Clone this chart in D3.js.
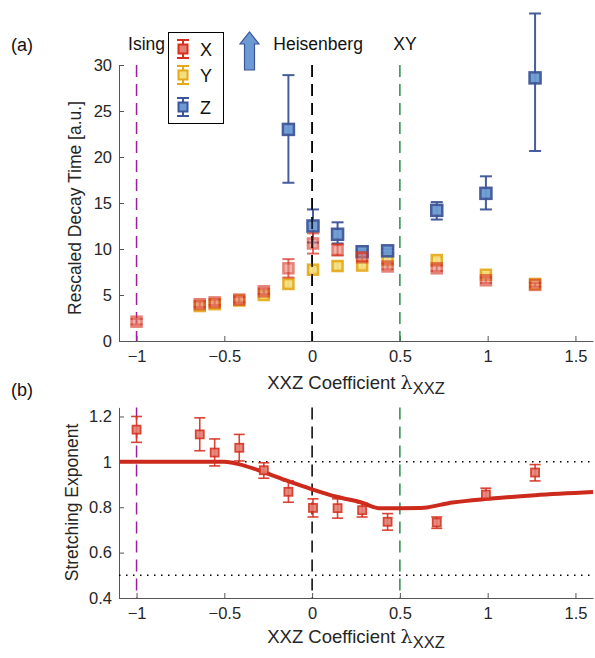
<!DOCTYPE html>
<html><head><meta charset="utf-8">
<script src="https://cdn.jsdelivr.net/npm/d3@7"></script>
<style>body{margin:0;background:#fff}svg{display:block;font-family:"Liberation Sans",Arial,sans-serif}</style>
</head><body><svg id="c" width="595" height="658"></svg>
<script>
// ---- data ----
const lambdaTop = [-1, -0.64, -0.555, -0.415, -0.275, -0.135, 0.005, 0.145, 0.285, 0.43, 0.71, 0.99, 1.27];
const xVals = [2.1, 4.0, 4.2, 4.5, 5.4, 7.9, 10.6, 9.9, 9.1, 8.1, 7.9, 6.6, 6.1];
const xErr  = [0.3, 0.3, 0.3, 0.3, 0.3, 1.0, 1.1, 0.6, 0.4, 0.3, 0.3, 0.3, 0.2];
const yVals = [null, 3.8, 4.0, 4.4, 5.0, 6.2, 7.75, 8.15, 8.2, 8.8, 8.8, 7.2, 6.2];
const yErr  = [0, 0.3, 0.3, 0.3, 0.3, 0.4, 0.3, 0.4, 0.3, 0.3, 0.3, 0.2, 0.2];
const zLambda = [-0.135, 0.005, 0.145, 0.285, 0.43, 0.71, 0.99, 1.27];
const zVals = [23.0, 12.5, 11.6, 9.7, 9.8, 14.2, 16.05, 28.6];
const zLo   = [5.8, 1.8, 1.0, 0.2, 0.2, 1.0, 1.75, 7.95];
const zHi   = [5.9, 1.8, 1.3, 0.2, 0.2, 0.9, 1.85, 7.0];
const lambdaBot = [-1, -0.64, -0.555, -0.415, -0.275, -0.135, 0.005, 0.145, 0.285, 0.43, 0.71, 0.99, 1.27];
const betaVals = [1.142, 1.121, 1.041, 1.062, 0.963, 0.868, 0.797, 0.796, 0.787, 0.736, 0.733, 0.856, 0.953];
const betaLo   = [0.056, 0.072, 0.059, 0.058, 0.035, 0.046, 0.040, 0.044, 0.030, 0.037, 0.026, 0.022, 0.037];
const betaHi   = [0.058, 0.073, 0.060, 0.059, 0.033, 0.048, 0.040, 0.041, 0.032, 0.036, 0.024, 0.028, 0.035];
const fitLambda = [-1.1, -0.5, -0.42, -0.28, -0.14, 0, 0.14, 0.28, 0.39, 0.62, 0.8, 1.0, 1.27, 1.6];
const fitBeta   = [1.0, 1.0, 0.99, 0.956, 0.916, 0.879, 0.846, 0.821, 0.795, 0.797, 0.821, 0.837, 0.853, 0.867];
const xTicks = [-1, -0.5, 0, 0.5, 1, 1.5];
const yTicksTop = [0, 5, 10, 15, 20, 25, 30];
const yTicksBot = [0.4, 0.6, 0.8, 1, 1.2];
const refLines = [{x: -1, name: "Ising", color: "#9b1f9b"}, {x: 0, name: "Heisenberg", color: "#000"}, {x: 0.5, name: "XY", color: "#2e8b4f"}];
const seriesNames = ["X", "Y", "Z"];

// ---- styles ----
const RED = {stroke: "#d7301f", fill: "#e37f73"};
const YEL = {stroke: "#e6a817", fill: "#f2df80"};
const BLU = {stroke: "#3d5599", fill: "#6b9bd2"};
const AX = "#555";

const svg = d3.select("#c");
const x = d3.scaleLinear().domain([-1.1, 1.6]).range([119, 593]);
const yT = d3.scaleLinear().domain([0, 30]).range([341, 65]);
const yB = d3.scaleLinear().domain([0.4, 1.24]).range([598, 407.4]);

function axes(y, ticks, fmt, top, bottom) {
  const gx = svg.append("g").attr("transform", `translate(0,${bottom})`)
    .call(d3.axisBottom(x).tickValues(xTicks).tickSizeInner(-5).tickSizeOuter(0).tickPadding(9).tickFormat(d3.format("")));
  const gy = svg.append("g").attr("transform", `translate(${x.range()[0]},0)`)
    .call(d3.axisLeft(y).tickValues(ticks).tickSizeInner(-5).tickSizeOuter(0).tickPadding(7).tickFormat(fmt));
  [gx, gy].forEach(g => {
    g.select(".domain").attr("stroke", AX).attr("stroke-width", 1);
    g.selectAll(".tick line").attr("stroke", AX);
    g.selectAll("text").attr("font-size", 16.5).attr("fill", "#262626").attr("font-family", "Liberation Sans, Arial, sans-serif");
  });
}

function refVLines(y0, y1) {
  refLines.forEach(r => {
    svg.append("line").attr("x1", x(r.x)).attr("x2", x(r.x)).attr("y1", y0).attr("y2", y1)
      .attr("stroke", r.color).attr("stroke-width", 1.5).attr("stroke-dasharray", "12,7");
  });
}

function errbar(g, cx, ylo, yhi, color, cap, w, op) {
  g.append("line").attr("x1", cx).attr("x2", cx).attr("y1", ylo).attr("y2", yhi).attr("stroke", color).attr("stroke-width", w).attr("opacity", op);
  [ylo, yhi].forEach(yy => g.append("line").attr("x1", cx - cap).attr("x2", cx + cap).attr("y1", yy).attr("y2", yy).attr("stroke", color).attr("stroke-width", w).attr("opacity", op));
}
function marker(g, cx, cy, s, st, sw, op) {
  g.append("rect").attr("x", cx - s / 2).attr("y", cy - s / 2).attr("width", s).attr("height", s)
    .attr("fill", st.fill).attr("stroke", st.stroke).attr("stroke-width", sw).attr("opacity", op);
}

// ===== Panel (a) =====
axes(yT, yTicksTop, d3.format(""), 65, 341);
refVLines(65, 341);

const gp = svg.append("g");
lambdaTop.forEach((l, i) => {
  if (yVals[i] == null) return;
  errbar(gp, x(l), yT(yVals[i] - yErr[i]), yT(yVals[i] + yErr[i]), YEL.stroke, 5, 2, 0.9);
  marker(gp, x(l), yT(yVals[i]), 10, YEL, 2.5, 0.9);
});
zLambda.forEach((l, i) => {
  errbar(gp, x(l), yT(zVals[i] - zLo[i]), yT(zVals[i] + zHi[i]), BLU.stroke, 6, 2, 0.95);
  marker(gp, x(l), yT(zVals[i]), 11, BLU, 2.5, 0.95);
});
lambdaTop.forEach((l, i) => {
  errbar(gp, x(l), yT(xVals[i] - xErr[i]), yT(xVals[i] + xErr[i]), RED.stroke, 6, 2, 0.7);
  marker(gp, x(l), yT(xVals[i]), 10, RED, 2.5, 0.6);
});
svg.append("line").attr("x1", x(0)).attr("x2", x(0)).attr("y1", 65).attr("y2", 341)
  .attr("stroke", "#000").attr("stroke-width", 1.5).attr("stroke-dasharray", "12,7").attr("opacity", 0.9);

refLines.forEach(r => {
  const off = r.name === "Ising" ? 10 : (r.name === "Heisenberg" ? 6 : 5);
  svg.append("text").attr("x", x(r.x) + off).attr("y", 50).attr("text-anchor", "middle")
    .attr("font-size", 17.5).attr("fill", "#111").text(r.name);
});

// arrow
const ax0 = 249.5;
svg.append("path").attr("d", `M${ax0 - 5},70 L${ax0 - 5},44 L${ax0 - 9.5},44 L${ax0},32 L${ax0 + 9.5},44 L${ax0 + 5},44 L${ax0 + 5},70 Z`)
  .attr("fill", BLU.fill).attr("stroke", BLU.stroke).attr("stroke-width", 1.2);

// legend
const lg = svg.append("g");
lg.append("rect").attr("x", 168.5).attr("y", 32.5).attr("width", 55).attr("height", 91).attr("fill", "#fff").attr("stroke", "#000").attr("stroke-width", 1);
const legSt = [RED, YEL, BLU];
const legY = [49, 75, 107];
seriesNames.forEach((n, i) => {
  errbar(lg, 183, legY[i] - 9, legY[i] + 9, legSt[i].stroke, 6, 2, 1);
  marker(lg, 183, legY[i], 9, legSt[i], 2, 1);
  lg.append("text").attr("x", 200).attr("y", legY[i] + 6.5).attr("font-size", 18).attr("fill", "#111").text(n);
});

svg.append("text").attr("x", 11).attr("y", 51).attr("font-size", 18).attr("fill", "#111").text("(a)");
svg.append("text").attr("transform", `translate(81,${(65 + 341) / 2 + 5}) rotate(-90)`).attr("text-anchor", "middle")
  .attr("font-size", 17.5).attr("fill", "#262626").text("Rescaled Decay Time [a.u.]");
function xlabel(yy) {
  const t = svg.append("text").attr("x", 356).attr("y", yy).attr("text-anchor", "middle").attr("font-size", 18.5).attr("fill", "#262626");
  t.append("tspan").text("XXZ Coefficient ");
  t.append("tspan").attr("font-family", "DejaVu Serif, serif").attr("font-size", 19).text("λ");
  t.append("tspan").attr("dy", 5).attr("font-size", 16.5).text("XXZ");
}
xlabel(389);

// ===== Panel (b) =====
axes(yB, yTicksBot, d3.format(""), 407.4, 598);
[1, 0.5].forEach(v => svg.append("line").attr("x1", x.range()[0]).attr("x2", x.range()[1]).attr("y1", yB(v)).attr("y2", yB(v))
  .attr("stroke", "#000").attr("stroke-width", 1.5).attr("stroke-dasharray", "1.5,5.5"));
refVLines(407.4, 598);

const line = d3.line().x((d, i) => x(fitLambda[i])).y(d => yB(d)).curve(d3.curveMonotoneX);
svg.append("path").datum(fitBeta).attr("d", line).attr("fill", "none").attr("stroke", "#cc2a1c").attr("stroke-width", 4).attr("stroke-linejoin", "round");

const gb = svg.append("g");
lambdaBot.forEach((l, i) => {
  errbar(gb, x(l), yB(betaVals[i] - betaLo[i]), yB(betaVals[i] + betaHi[i]), RED.stroke, 5.5, 1.6, 0.9);
  marker(gb, x(l), yB(betaVals[i]), 8, RED, 1.8, 0.9);
});

svg.append("text").attr("x", 11).attr("y", 396).attr("font-size", 18).attr("fill", "#111").text("(b)");
svg.append("text").attr("transform", `translate(78,${(407 + 598) / 2}) rotate(-90)`).attr("text-anchor", "middle")
  .attr("font-size", 17.5).attr("fill", "#262626").text("Stretching Exponent");
xlabel(643);
</script></body></html>
